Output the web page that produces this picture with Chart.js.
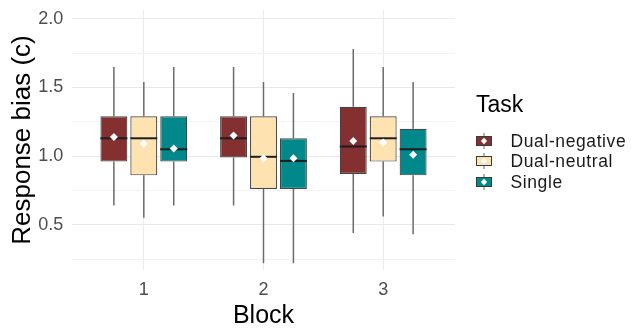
<!DOCTYPE html>
<html>
<head>
<meta charset="utf-8">
<script src="https://cdn.jsdelivr.net/npm/chart.js@4"></script>
<style>
  html, body { margin: 0; padding: 0; background: #ffffff; }
  #wrap { width: 631px; height: 331px; }
</style>
</head>
<body>
<div id="wrap"><canvas id="c" width="631" height="331"></canvas></div>
<script>
// ---- Data ----
const blocks = [1, 2, 3];
const tasks = ['Dual-negative', 'Dual-neutral', 'Single'];
const taskColors = ['#842f30', '#fee3b0', '#00888a'];

// Dual-negative
const dnegLow    = [0.64, 0.64, 0.44];
const dnegQ1     = [0.96, 0.99, 0.87];
const dnegMedian = [1.13, 1.13, 1.07];
const dnegQ3     = [1.29, 1.29, 1.36];
const dnegHigh   = [1.65, 1.65, 1.78];
const dnegMean   = [1.14, 1.15, 1.11];

// Dual-neutral
const dneuLow    = [0.55, 0.22, 0.56];
const dneuQ1     = [0.86, 0.76, 0.96];
const dneuMedian = [1.13, 0.995, 1.13];
const dneuQ3     = [1.29, 1.29, 1.29];
const dneuHigh   = [1.54, 1.54, 1.65];
const dneuMean   = [1.09, 0.985, 1.10];

// Single
const singLow    = [0.64, 0.22, 0.43];
const singQ1     = [0.96, 0.76, 0.86];
const singMedian = [1.05, 0.965, 1.05];
const singQ3     = [1.29, 1.13, 1.20];
const singHigh   = [1.65, 1.46, 1.54];
const singMean   = [1.055, 0.985, 1.01];

const yTickValues = [0.25, 0.5, 0.75, 1.0, 1.25, 1.5, 1.75, 2.0];
const yLabelValues = [0.5, 1.0, 1.5, 2.0];
const legendTitle = 'Task';

const stats = [
  {low: dnegLow, q1: dnegQ1, med: dnegMedian, q3: dnegQ3, high: dnegHigh, mean: dnegMean},
  {low: dneuLow, q1: dneuQ1, med: dneuMedian, q3: dneuQ3, high: dneuHigh, mean: dneuMean},
  {low: singLow, q1: singQ1, med: singMedian, q3: singQ3, high: singHigh, mean: singMean}
];

const FONT = '"Liberation Sans", Arial, sans-serif';

// ---- Legend key icons (boxplot key glyph) ----
function makeIcon(fill) {
  const cv = document.createElement('canvas');
  cv.width = 16; cv.height = 16;
  const g = cv.getContext('2d');
  g.strokeStyle = '#666666'; g.lineWidth = 1;
  g.beginPath(); g.moveTo(8, 0); g.lineTo(8, 3.5); g.moveTo(8, 12.5); g.lineTo(8, 16); g.stroke();
  g.fillStyle = fill; g.fillRect(0.5, 3.5, 15, 9);
  g.strokeStyle = '#3a3a3a'; g.strokeRect(0.5, 3.5, 15, 9);
  g.fillStyle = '#ffffff';
  g.beginPath(); g.moveTo(8, 4.8); g.lineTo(11.2, 8); g.lineTo(8, 11.2); g.lineTo(4.8, 8); g.closePath(); g.fill();
  return cv;
}
const icons = taskColors.map(makeIcon);

const datasets = tasks.map((t, i) => ({
  label: t,
  data: blocks.map((b, j) => ({x: b, y: [stats[i].q1[j], stats[i].q3[j]]})),
  backgroundColor: taskColors[i],
  borderColor: '#444444',
  borderWidth: 1.2,
  borderSkipped: false,
  categoryPercentage: 0.75,
  barPercentage: 0.9
}));

const boxExtras = {
  id: 'boxExtras',
  beforeDatasetsDraw(chart) {
    const ctx = chart.ctx, ys = chart.scales.y;
    ctx.save();
    ctx.strokeStyle = '#6b6b6b';
    ctx.lineWidth = 1.5;
    stats.forEach((s, i) => {
      chart.getDatasetMeta(i).data.forEach((el, j) => {
        ctx.beginPath();
        ctx.moveTo(el.x, ys.getPixelForValue(s.q3[j]));
        ctx.lineTo(el.x, ys.getPixelForValue(s.high[j]));
        ctx.moveTo(el.x, ys.getPixelForValue(s.q1[j]));
        ctx.lineTo(el.x, ys.getPixelForValue(s.low[j]));
        ctx.stroke();
      });
    });
    ctx.restore();
  },
  afterDatasetsDraw(chart) {
    const ctx = chart.ctx, ys = chart.scales.y;
    ctx.save();
    stats.forEach((s, i) => {
      chart.getDatasetMeta(i).data.forEach((el, j) => {
        const hw = el.width / 2;
        const ym = ys.getPixelForValue(s.med[j]);
        ctx.strokeStyle = '#1e1e1e';
        ctx.lineWidth = 2;
        ctx.beginPath();
        ctx.moveTo(el.x - hw, ym);
        ctx.lineTo(el.x + hw, ym);
        ctx.stroke();
        const yM = ys.getPixelForValue(s.mean[j]);
        const r = 4;
        ctx.fillStyle = '#ffffff';
        ctx.beginPath();
        ctx.moveTo(el.x, yM - r);
        ctx.lineTo(el.x + r, yM);
        ctx.lineTo(el.x, yM + r);
        ctx.lineTo(el.x - r, yM);
        ctx.closePath();
        ctx.fill();
      });
    });
    ctx.restore();
  }
};

// Legend drawn to the right of the panel (ggplot-style key)
const taskLegend = {
  id: 'taskLegend',
  afterDraw(chart) {
    const ctx = chart.ctx;
    const x0 = chart.chartArea.right + 21;
    ctx.save();
    ctx.textAlign = 'left';
    ctx.textBaseline = 'alphabetic';
    ctx.fillStyle = '#000000';
    ctx.font = '23px ' + FONT;
    ctx.fillText(legendTitle, x0, 111.5);
    ctx.font = '17.5px ' + FONT;
    try { ctx.letterSpacing = '0.6px'; } catch (e) {}
    ctx.fillStyle = '#1a1a1a';
    tasks.forEach((t, i) => {
      const yc = 140.8 + i * 20.4;
      ctx.drawImage(icons[i], x0, Math.round(yc - 8));
      ctx.fillText(t, x0 + 34.5, yc + 6.2);
    });
    ctx.restore();
  }
};

new Chart(document.getElementById('c'), {
  type: 'bar',
  data: { datasets },
  plugins: [boxExtras, taskLegend],
  options: {
    responsive: false,
    animation: false,
    devicePixelRatio: 1,
    layout: { padding: { top: 10, right: 176, bottom: 0, left: 0 } },
    plugins: {
      tooltip: { enabled: false },
      legend: { display: false }
    },
    scales: {
      x: {
        type: 'linear',
        min: 0.4,
        max: 3.6,
        offset: false,
        afterBuildTicks: (s) => { s.ticks = blocks.map(v => ({ value: v })); },
        afterFit: (s) => { s.height = 61; s.paddingLeft = 0; s.paddingRight = 0; s.paddingTop = 0; s.paddingBottom = 0; },
        ticks: {
          autoSkip: false,
          maxRotation: 0,
          padding: 9.2,
          color: '#4d4d4d',
          font: { family: FONT, size: 18, lineHeight: 1.2 },
          callback: (v) => String(v)
        },
        grid: { color: '#ebebeb', lineWidth: 1, drawTicks: false, offset: false },
        border: { display: false },
        title: {
          display: true,
          text: 'Block',
          color: '#000000',
          font: { family: FONT, size: 25, lineHeight: 1.0 },
          padding: { top: 2.7, bottom: 2.5 }
        }
      },
      y: {
        type: 'linear',
        min: 0.17,
        max: 2.065,
        afterBuildTicks: (s) => { s.ticks = yTickValues.map(v => ({ value: v })); },
        afterFit: (s) => { s.width = 72; s.paddingLeft = 0; s.paddingRight = 0; s.paddingTop = 0; s.paddingBottom = 0; },
        ticks: {
          autoSkip: false,
          padding: 8.7,
          color: '#4d4d4d',
          font: { family: FONT, size: 18, lineHeight: 1.2 },
          callback: (v) => (yLabelValues.some(m => Math.abs(m - v) < 1e-9) ? v.toFixed(1) : '')
        },
        grid: {
          drawTicks: false,
          color: (c) => (c.tick && yLabelValues.some(m => Math.abs(m - c.tick.value) < 1e-9)) ? '#e9e9e9' : '#f3f3f3',
          lineWidth: 1
        },
        border: { display: false },
        title: {
          display: true,
          text: 'Response bias (c)',
          color: '#000000',
          font: { family: FONT, size: 26, lineHeight: 1.0 },
          padding: { top: 10, bottom: 2.3 }
        }
      }
    }
  }
});
</script>
</body>
</html>
